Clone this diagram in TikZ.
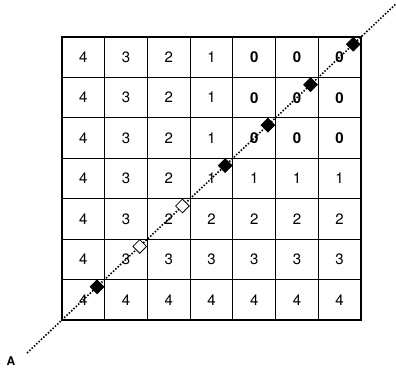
\documentclass[tikz,border=0pt]{standalone}
\usepackage{fontspec}
\setmainfont{TeX Gyre Heros}
\usetikzlibrary{shapes.geometric,calc}
\begin{document}
\begin{tikzpicture}[x=1pt,y=1pt,line width=.8pt,font=\fontsize{15}{17}\selectfont,
  cell/.style={inner sep=0pt},
  fullmark/.style={diamond,draw,fill=black,minimum size=14pt,inner sep=0pt},
  openmark/.style={diamond,draw,fill=white,minimum size=14pt,inner sep=0pt},
  trace/.style={line width=1.6pt,dash pattern=on 1.5pt off 1.7pt}]
  \useasboundingbox (0,0) rectangle (396,368);
  \def\cw{42.714} \def\ch{40.429}
  \coordinate (sw) at (62,48);
  \coordinate (ne) at (361,331);
  \foreach \i in {1,...,6}{
    \draw[line width=.8pt] ($(sw)+(\i*\cw,0)$) -- ($(sw)+(\i*\cw,283)$);
    \draw[line width=.8pt] ($(sw)+(0,\i*\ch)$) -- ($(sw)+(299,\i*\ch)$);
  }
  \draw[line width=2pt] (sw) rectangle (ne);
  \foreach \r in {0,...,6}
    \foreach \c in {0,...,6}{
      \pgfmathtruncatemacro\v{max(4-\c,\r-2,0)}
      \node[cell] (v-\r-\c) at ({62+(\c+.5)*\cw},{331-(\r+.5)*\ch}) {\ifnum\v=0 \bfseries\fi\v};
    }
  \coordinate (lo) at (27,15);
  \coordinate (hi) at (398,366);
  \draw[trace] (lo) -- (hi);
  \foreach \k/\s in {0/fullmark,1/openmark,2/openmark,3/fullmark,4/fullmark,5/fullmark,6/fullmark}
    \node[\s] (d\k) at ($(sw)!{(\k+.82)/7}!(ne)$) {};
  \node[font=\bfseries\fontsize{12}{12}\selectfont] (a) at (11,7) {A};
\end{tikzpicture}
\end{document}
